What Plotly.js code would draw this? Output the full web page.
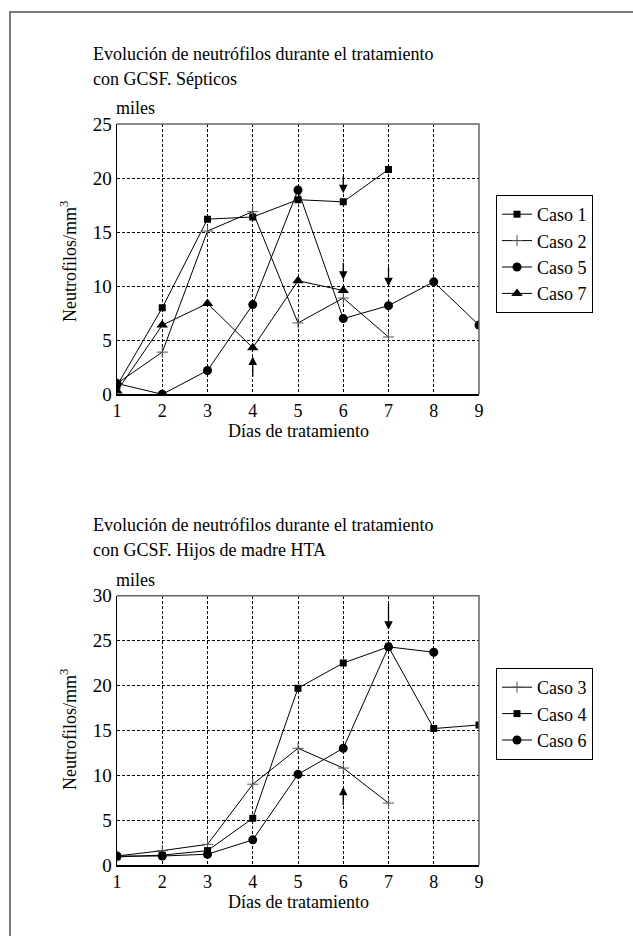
<!DOCTYPE html>
<html><head><meta charset="utf-8">
<script src="https://cdn.plot.ly/plotly-3.0.1.min.js"></script>
<style>html,body{margin:0;padding:0;background:#fff}</style>
</head><body><div id="chart" style="width:633px;height:936px"></div>
<script>
// ---- data ----
const days = [1, 2, 3, 4, 5, 6, 7, 8, 9];
// Top chart: Sépticos
const caso1 = [0.8, 8.0, 16.2, 16.4, 18.0, 17.8, 20.8];
const caso2 = [1.0, 3.9, 15.1, 16.9, 6.6, 8.9, 5.3];
const caso5 = [1.0, 0.0, 2.2, 8.3, 18.9, 7.0, 8.2, 10.4, 6.4];
const caso7 = [0.3, 6.4, 8.4, 4.3, 10.5, 9.6];
// Bottom chart: Hijos de madre HTA
const caso3 = [1.0, 1.6, 2.3, 9.0, 13.0, 10.8, 6.9];
const caso4 = [0.9, 1.1, 1.6, 5.2, 19.7, 22.5, 24.3, 15.2, 15.6];
const caso6 = [1.0, 1.0, 1.2, 2.8, 10.1, 13.0, 24.3, 23.7];
// Arrows (day, tail value, tip value)
const arrowsTopX = [4, 6, 6, 7];
const arrowsTopTail = [1.5, 20.3, 12.3, 11.9];
const arrowsTopTip = [3.5, 18.6, 10.6, 10.0];
const arrowsBotX = [7, 6];
const arrowsBotTail = [29.3, 6.5];
const arrowsBotTip = [26.2, 8.7];
// Text
const titleTop = ["Evolución de neutrófilos durante el tratamiento", "con GCSF. Sépticos"];
const titleBot = ["Evolución de neutrófilos durante el tratamiento", "con GCSF. Hijos de madre HTA"];
const xTitle = "Días de tratamiento";
const yTitle = "Neutrofilos/mm<sup>3</sup>";
const unitLabel = "miles";

// ---- helpers ----
const W = 633, H = 936;
const FONT = "Liberation Serif, Times New Roman, serif";
const px = v => v / W;
const py = v => 1 - v / H;

function line(name, ys, symbol, size, xa, ya, leg, mcol, mline) {
  return {
    type: 'scatter', mode: 'lines+markers', name: name,
    x: days.slice(0, ys.length), y: ys,
    xaxis: xa, yaxis: ya, legend: leg, legendgroup: name,
    line: {color: '#000', width: 1},
    marker: {symbol: symbol, size: size, color: mcol || '#000',
             line: mline || {width: 0}},
    hoverinfo: 'skip'
  };
}
const plusLine = {color: '#555', width: 1};

const data = [
  line('Caso 1', caso1, 'square', 7, 'x', 'y', 'legend'),
  line('Caso 2', caso2, 'cross-thin', 8, 'x', 'y', 'legend', '#555', plusLine),
  line('Caso 5', caso5, 'circle', 9, 'x', 'y', 'legend'),
  line('Caso 7', caso7, 'triangle-up', 10, 'x', 'y', 'legend'),
  line('Caso 3', caso3, 'cross-thin', 8, 'x2', 'y2', 'legend2', '#555', plusLine),
  line('Caso 4', caso4, 'square', 7, 'x2', 'y2', 'legend2'),
  line('Caso 6', caso6, 'circle', 9, 'x2', 'y2', 'legend2')
];

function xax(anchor) {
  return {domain: [px(117), px(479)], range: [1, 9], anchor: anchor,
    tick0: 1, dtick: 1, showgrid: true, gridcolor: '#000', gridwidth: 1, griddash: '3px,2px',
    showline: true, linecolor: '#000', linewidth: 1.5, zeroline: false, ticks: '',
    tickfont: {family: FONT, size: 18, color: '#000'}, fixedrange: true};
}
function yax(anchor, top, bot, max) {
  return {domain: [py(bot), py(top)], range: [0, max], anchor: anchor,
    tick0: 0, dtick: 5, showgrid: true, gridcolor: '#000', gridwidth: 1, griddash: '3px,2px',
    showline: true, linecolor: '#000', linewidth: 1.5, zeroline: false, ticks: '',
    tickfont: {family: FONT, size: 19, color: '#000'}, fixedrange: true};
}

const annotations = [];
function txt(text, x, y, opts) {
  annotations.push(Object.assign({text: text, xref: 'paper', yref: 'paper', x: px(x), y: py(y),
    xanchor: 'left', yanchor: 'middle', showarrow: false,
    font: {family: FONT, size: 18, color: '#000'}}, opts || {}));
}
txt(titleTop[0], 91, 54);
txt(titleTop[1], 91, 79);
txt(unitLabel, 114, 108);
txt(xTitle, 298, 431, {xanchor: 'center'});
txt(yTitle, 68, 262, {xanchor: 'center', textangle: -90});
txt(titleBot[0], 91, 525);
txt(titleBot[1], 91, 550);
txt(unitLabel, 114, 580);
txt(xTitle, 298, 902, {xanchor: 'center'});
txt(yTitle, 68, 730, {xanchor: 'center', textangle: -90});

function arrows(xs, tails, tips, xa, ya) {
  xs.forEach((x, i) => annotations.push({
    x: x, y: tips[i], ax: x, ay: tails[i], xref: xa, yref: ya, axref: xa, ayref: ya,
    showarrow: true, arrowhead: 2, arrowsize: 1.3, arrowwidth: 1.3, arrowcolor: '#000', text: ''
  }));
}
arrows(arrowsTopX, arrowsTopTail, arrowsTopTip, 'x', 'y');
arrows(arrowsBotX, arrowsBotTail, arrowsBotTip, 'x2', 'y2');

const shapes = [
  // page frame (top + left)
  {type: 'path', xref: 'paper', yref: 'paper',
   path: `M ${px(10)} 0 L ${px(10)} ${py(12)} L 1 ${py(12)}`,
   line: {color: '#7a7a7a', width: 2}},
  // plot frames top/right
  {type: 'path', xref: 'paper', yref: 'paper',
   path: `M ${px(117)} ${py(124)} L ${px(479)} ${py(124)} L ${px(479)} ${py(394.3)}`,
   line: {color: '#666', width: 1.5}},
  {type: 'path', xref: 'paper', yref: 'paper',
   path: `M ${px(117)} ${py(595.7)} L ${px(479)} ${py(595.7)} L ${px(479)} ${py(865)}`,
   line: {color: '#666', width: 1.5}}
];

const legendBase = {xanchor: 'left', yanchor: 'top', bordercolor: '#000', borderwidth: 1,
  bgcolor: '#fff', font: {family: FONT, size: 18, color: '#000'}, tracegroupgap: 0,
  itemwidth: 30, itemclick: false, itemdoubleclick: false};

const layout = {
  width: W, height: H, margin: {l: 0, r: 0, t: 0, b: 0},
  paper_bgcolor: '#fff', plot_bgcolor: '#fff', showlegend: true,
  font: {family: FONT, color: '#000'},
  xaxis: xax('y'), yaxis: yax('x', 124, 394.3, 25),
  xaxis2: xax('y2'), yaxis2: yax('x2', 595.7, 865, 30),
  legend: Object.assign({x: px(496), y: py(195)}, legendBase),
  legend2: Object.assign({x: px(496), y: py(668)}, legendBase),
  annotations: annotations, shapes: shapes
};

Plotly.newPlot('chart', data, layout, {displayModeBar: false, staticPlot: true});
</script>
</body></html>
